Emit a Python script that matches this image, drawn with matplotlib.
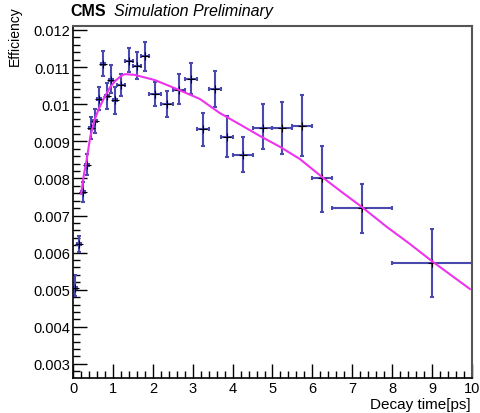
import matplotlib
matplotlib.use('Agg')
from matplotlib import pyplot
from matplotlib.ticker import MultipleLocator, FuncFormatter

# binned efficiency vs decay time
t_center = [0.05, 0.15, 0.25, 0.35, 0.45, 0.55, 0.65, 0.75, 0.85, 0.95, 1.05,
            1.2, 1.4, 1.6, 1.8, 2.05, 2.35, 2.65, 2.95, 3.25, 3.55, 3.85,
            4.25, 4.75, 5.25, 5.75, 6.25, 7.25, 9.0]
t_halfwidth = [0.05, 0.05, 0.05, 0.05, 0.05, 0.05, 0.05, 0.05, 0.05, 0.05, 0.05,
               0.1, 0.1, 0.1, 0.1, 0.15, 0.15, 0.15, 0.15, 0.15, 0.15, 0.15,
               0.25, 0.25, 0.25, 0.25, 0.25, 0.75, 1.0]
eff = [0.00504, 0.00623, 0.00763, 0.00836, 0.00936, 0.00955, 0.01014, 0.01108,
       0.01022, 0.01065, 0.01011, 0.01052, 0.01117, 0.01103, 0.01130, 0.01027,
       0.01000, 0.01038, 0.01068, 0.00933, 0.01041, 0.00912, 0.00864, 0.00936,
       0.00936, 0.00941, 0.00801, 0.00720, 0.00572]
eff_low = [0.00483, 0.00602, 0.00736, 0.00809, 0.00906, 0.00922, 0.00984, 0.01076,
           0.00987, 0.01030, 0.00974, 0.01022, 0.01087, 0.01068, 0.01090, 0.00995,
           0.00966, 0.01000, 0.01027, 0.00887, 0.00992, 0.00858, 0.00817, 0.00880,
           0.00866, 0.00860, 0.00710, 0.00653, 0.00480]
eff_high = [0.00540, 0.00645, 0.00790, 0.00866, 0.00966, 0.00987, 0.01046, 0.01143,
            0.01057, 0.01106, 0.01046, 0.01081, 0.01151, 0.01141, 0.01168, 0.01060,
            0.01036, 0.01081, 0.01111, 0.00976, 0.01090, 0.00968, 0.00912, 0.01000,
            0.01006, 0.01025, 0.00887, 0.00785, 0.00664]

# fitted curve
fit_t = [0.2, 0.27, 0.33, 0.43, 0.53, 0.63, 0.75, 0.93, 1.05, 1.2, 1.3, 1.55,
         1.8, 2.05, 2.6, 3.18, 3.68, 4.19, 4.69, 5.19, 5.69, 6.24, 6.74, 7.24,
         7.87, 8.45, 9.0, 9.95]
fit_eff = [0.00758, 0.00810, 0.00844, 0.00912, 0.00955, 0.00984, 0.01011, 0.01046,
           0.01062, 0.01076, 0.01081, 0.01079, 0.01072, 0.01065, 0.01041, 0.01014,
           0.00976, 0.00945, 0.00914, 0.00885, 0.00852, 0.00804, 0.00763, 0.00723,
           0.00669, 0.00623, 0.00577, 0.00502]

pyplot.rcParams['font.family'] = ['Liberation Sans', 'DejaVu Sans']

fig = pyplot.figure(figsize=(4.81, 4.14), dpi=100)
ax = fig.add_axes([0.152, 0.0845, 0.829, 0.8505])

yerr = [[e - lo for e, lo in zip(eff, eff_low)],
        [hi - e for e, hi in zip(eff, eff_high)]]
ax.errorbar(t_center, eff, xerr=t_halfwidth, yerr=yerr, fmt='none',
            ecolor='#4a4aae', elinewidth=1.5, capsize=1.5, capthick=1.5, zorder=2)
ax.plot(t_center, eff, linestyle='none', marker='+', markersize=6,
        markeredgewidth=0.8, color='black', zorder=3)
ax.plot(fit_t, fit_eff, '-', color='#ee33ee', linewidth=1.5, zorder=4)

ax.set_xlim(0, 10)
ax.set_ylim(0.00262, 0.01211)
ax.xaxis.set_major_locator(MultipleLocator(1))
ax.xaxis.set_minor_locator(MultipleLocator(0.2))
ax.yaxis.set_major_locator(MultipleLocator(0.001))
ax.yaxis.set_minor_locator(MultipleLocator(0.0002))
ax.yaxis.set_major_formatter(FuncFormatter(lambda v, p: '%g' % round(v, 4)))
ax.tick_params(which='both', direction='in', top=False, right=False,
               labelsize=10.5, width=1.0, color='black', pad=2)
ax.tick_params(which='major', length=10)
ax.tick_params(which='minor', length=5)
for side in ['left', 'bottom']:
    ax.spines[side].set_linewidth(1.2)
    ax.spines[side].set_color('black')
for side in ['top', 'right']:
    ax.spines[side].set_linewidth(1.5)
    ax.spines[side].set_color('#555555')

fig.text(0.146, 0.972, 'CMS', fontsize=11.5, fontweight='bold', ha='left', va='center')
fig.text(0.238, 0.972, 'Simulation Preliminary', fontsize=11.5, fontstyle='italic',
         ha='left', va='center')
fig.text(0.031, 0.985, 'Efficiency', fontsize=10, rotation=90, ha='center', va='top')
fig.text(0.979, 0.022, 'Decay time[ps]', fontsize=11, ha='right', va='center')

fig.savefig('out.png', dpi=100)
pyplot.close(fig)
